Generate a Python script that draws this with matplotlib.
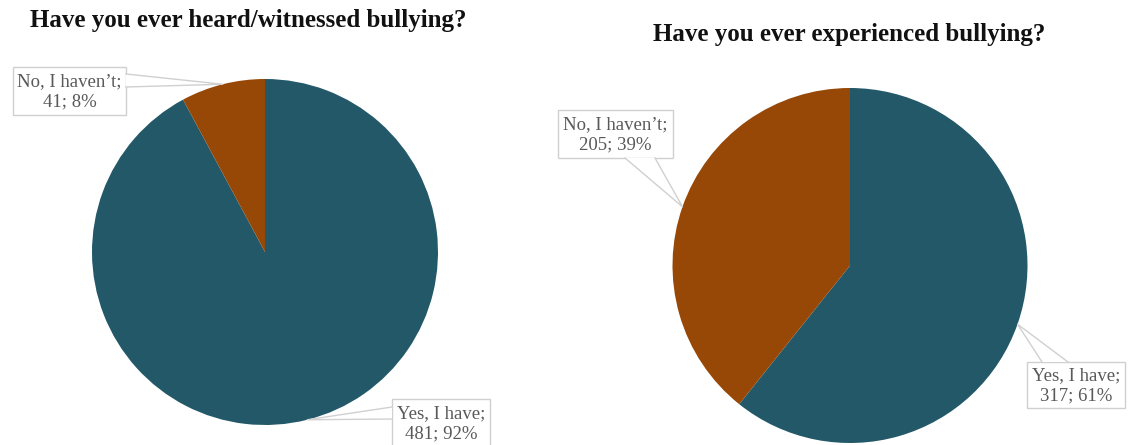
import matplotlib.pyplot as plt
from matplotlib.patches import Rectangle, Polygon
import numpy as np

# data
titles = ['Have you ever heard/witnessed bullying?', 'Have you ever experienced bullying?']
categories = ['Yes, I have', "No, I haven\u2019t"]
witnessed = [481, 41]
experienced = [317, 205]
colors = ['#225868', '#974807']

W, H = 1128, 445
fig = plt.figure(figsize=(W / 100, H / 100), dpi=100)

# overlay axes in pixel coordinates (y down) for titles and callouts
over = fig.add_axes([0, 0, 1, 1], zorder=5)
over.set_xlim(0, W)
over.set_ylim(H, 0)
over.axis('off')


def pie_axes(cx, cy, r):
    ax = fig.add_axes([(cx - r) / W, (H - cy - r) / H, 2 * r / W, 2 * r / H])
    ax.axis('off')
    return ax


def callout(ax, wedge, box, base, label, value, total):
    x0, y0, x1, y1 = box
    mid = np.deg2rad((wedge.theta1 + wedge.theta2) / 2)
    px, py = ax.transData.transform((np.cos(mid), np.sin(mid)))
    apex = over.transData.inverted().transform((px, py))
    (bx0, by0), (bx1, by1) = base
    over.add_patch(Rectangle((x0, y0), x1 - x0, y1 - y0, facecolor='white',
                             edgecolor='#d0d0d0', lw=1.0, zorder=6))
    over.add_patch(Polygon([(bx0, by0), apex, (bx1, by1)], closed=True,
                           facecolor='white', edgecolor='none', zorder=7))
    over.plot([bx0, apex[0], bx1], [by0, apex[1], by1], color='#d0d0d0', lw=1.0, zorder=8)
    pct = round(value / total * 100)
    over.text((x0 + x1) / 2, (y0 + y1) / 2 + 1, f'{label};\n{value}; {pct}%',
              ha='center', va='center', family='Liberation Serif', fontsize=13.5,
              color='#595959', linespacing=1.25, zorder=9)


title_kw = dict(ha='center', va='center', family='Liberation Serif',
                fontweight='bold', fontsize=18, color='#111111')


def draw_pie(ax, values):
    wedges, _ = ax.pie(values, colors=colors, startangle=90, counterclock=False,
                       radius=1, wedgeprops=dict(linewidth=0))
    ax.set_xlim(-1, 1)
    ax.set_ylim(-1, 1)
    return wedges


# left pie
ax1 = pie_axes(265, 252, 173)
w1 = draw_pie(ax1, witnessed)
over.text(248, 21, titles[0], **title_kw)
callout(ax1, w1[1], (13, 67, 126, 115), ((126, 74), (126, 87)), categories[1], witnessed[1], sum(witnessed))
callout(ax1, w1[0], (392, 399, 490, 447), ((392, 407), (392, 419)), categories[0], witnessed[0], sum(witnessed))

# right pie
ax2 = pie_axes(850, 265.5, 177.5)
w2 = draw_pie(ax2, experienced)
over.text(849, 34, titles[1], **title_kw)
callout(ax2, w2[1], (558, 110, 673, 158), ((625, 158), (655, 158)), categories[1], experienced[1], sum(experienced))
callout(ax2, w2[0], (1027, 362, 1125, 408), ((1042, 362), (1068, 362)), categories[0], experienced[0], sum(experienced))

fig.savefig('out.png', dpi=100)
